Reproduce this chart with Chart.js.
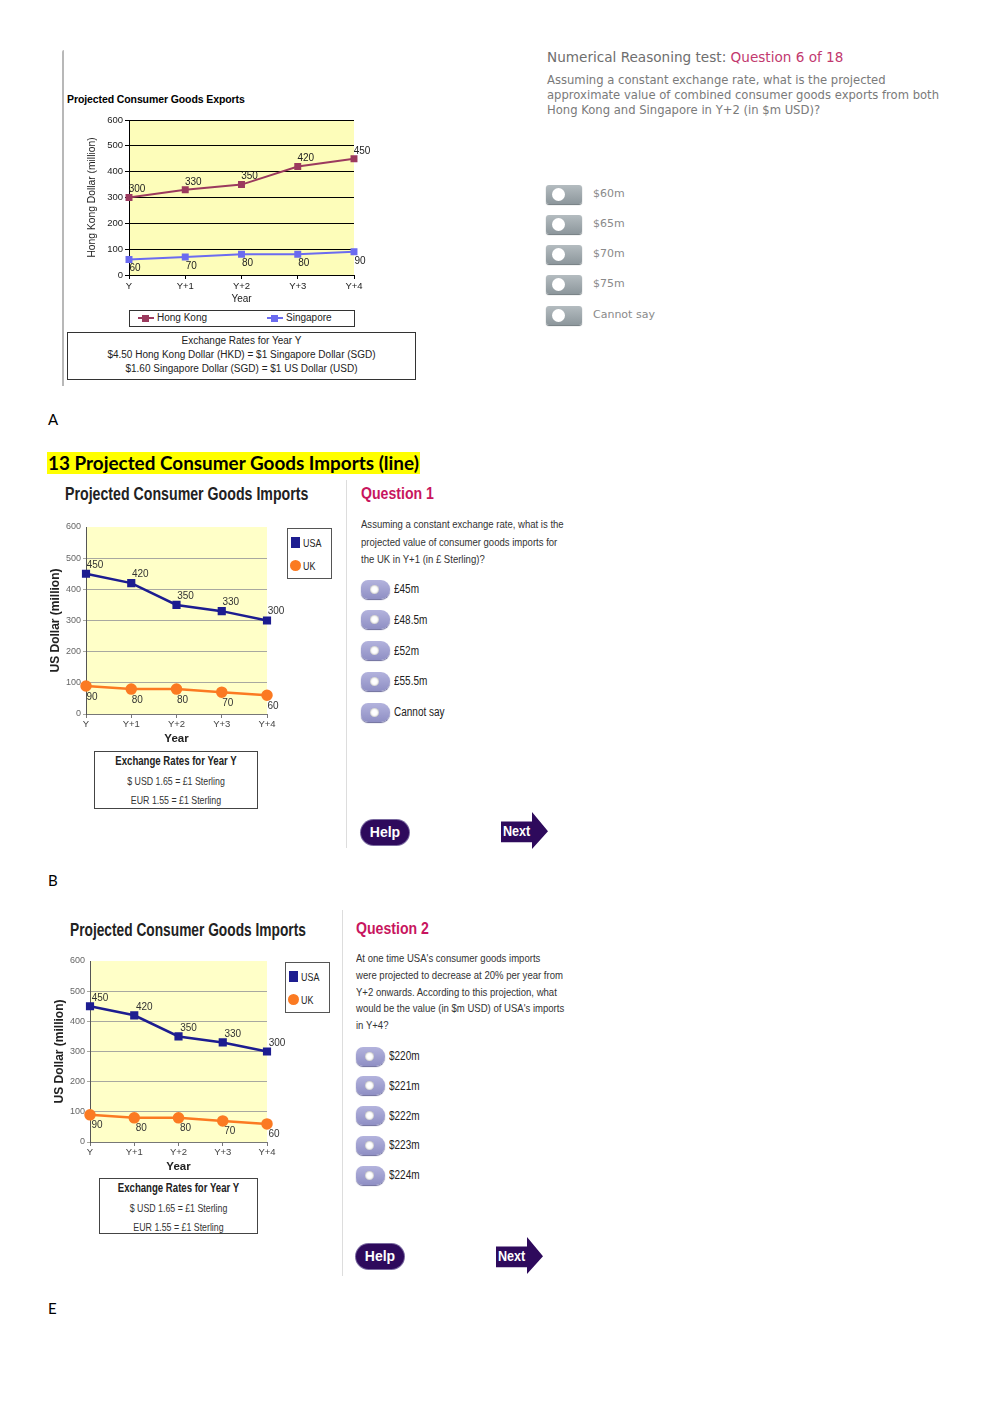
<!DOCTYPE html>
<html><head><meta charset="utf-8">
<script src="https://cdn.jsdelivr.net/npm/chart.js@4.4.0/dist/chart.umd.min.js"></script>
<style>
body{margin:0;background:#fff;width:1000px;height:1414px;position:relative;overflow:hidden;}
.a{position:absolute;white-space:nowrap;}
canvas{position:absolute;}
.box{position:absolute;border:1px solid #333;box-sizing:border-box;background:#fff;}
.gbtn{position:absolute;width:36px;height:19px;border-radius:3px;background:linear-gradient(#b4bcc0,#8d979c);box-shadow:0 1px 1px #6d777c;}
.gbtn::after{content:"";position:absolute;left:6px;top:3px;width:13px;height:13px;border-radius:50%;background:#fff;}
.pbtn{position:absolute;width:29px;height:19px;border-radius:7px 9px 9px 7px;background:linear-gradient(#b3b3dd,#8f8fc4);box-shadow:0 1px 1px #6a6a9a;}
.pbtn::after{content:"";position:absolute;left:9px;top:5px;width:9px;height:9px;border-radius:50%;background:#fff;box-shadow:inset 0 0 2px #888;}
.help{position:absolute;background:#2e0a5c;color:#fff;border-radius:13px;font-family:'Liberation Sans',sans-serif;font-weight:bold;font-size:14px;text-align:center;box-shadow:0 0 0 1px #7a6aa0;}
.next{position:absolute;background:#2e0a5c;clip-path:polygon(0 26%,66% 26%,66% 0,100% 52%,66% 100%,66% 82%,0 82%);}
.nextt{position:absolute;color:#fff;font-family:'Liberation Sans',sans-serif;font-weight:bold;font-size:14px;transform:scaleX(0.9);transform-origin:0 50%;}
</style></head>
<body>
<script>
// ---------- data ----------
const yearLabels = ['Y','Y+1','Y+2','Y+3','Y+4'];
const hongKongExports = [300,330,350,420,450];
const singaporeExports = [60,70,80,80,90];
const usaImports = [450,420,350,330,300];
const ukImports = [90,80,80,70,60];
const axisMin = 0, axisMax = 600, axisStep = 100;
const optionsA = ['$60m','$65m','$70m','$75m','Cannot say'];
const options1 = ['£45m','£48.5m','£52m','£55.5m','Cannot say'];
const options2 = ['$220m','$221m','$222m','$223m','$224m'];

// ---------- helpers ----------
function txt(x, cy, s, css, lh){
  lh = lh || 16;
  const d = document.createElement('div');
  d.className = 'a';
  d.style.cssText += `left:${x}px;top:${cy-lh/2}px;line-height:${lh}px;height:${lh}px;` + (css||'');
  d.textContent = s;
  document.body.appendChild(d);
  return d;
}
function el(cls, css, html){
  const d = document.createElement('div');
  d.className = cls; d.style.cssText = css;
  if (html !== undefined) d.innerHTML = html;
  document.body.appendChild(d); return d;
}
function canvasAt(id, x, y, w, h){
  const c = document.createElement('canvas');
  c.id = id; c.width = w; c.height = h;
  c.style.cssText = `left:${x}px;top:${y}px;width:${w}px;height:${h}px;`;
  document.body.appendChild(c); return c;
}
const sx = k => `transform:scaleX(${k});transform-origin:0 50%;`;
const sxc = k => `transform:scaleX(${k});transform-origin:50% 50%;`;

const plotBg = { id:'plotBg', beforeDraw(chart, args, opts){
  const {ctx, chartArea:a} = chart; ctx.save(); ctx.fillStyle = opts.color;
  ctx.fillRect(a.left, a.top, a.right-a.left, a.bottom-a.top); ctx.restore(); } };
const pointLabels = { id:'pointLabels', afterDatasetsDraw(chart, args, opts){
  const ctx = chart.ctx;
  chart.data.datasets.forEach((ds, i) => {
    const meta = chart.getDatasetMeta(i); const o = ds.labelOffset || [0,0];
    ctx.save(); ctx.font = opts.font; ctx.fillStyle = opts.color;
    ctx.textAlign = 'center'; ctx.textBaseline = 'middle';
    meta.data.forEach((pt, j) => ctx.fillText(String(ds.data[j]), pt.x + o[0], pt.y + o[1]));
    ctx.restore();
  });
} };

// ================= SECTION A =================
el('a', 'left:62px;top:50px;width:2px;height:336px;background:#b8b8b8;border-radius:2px 0 0 0;');
txt(67, 99, 'Projected Consumer Goods Exports', "font-family:'Liberation Sans',sans-serif;font-weight:bold;font-size:10.5px;color:#000;letter-spacing:-0.1px;");

const fA = "'Liberation Sans', sans-serif";
new Chart(canvasAt('chartA', 80, 110, 300, 200), {
  type:'line',
  data:{ labels:yearLabels, datasets:[
    { label:'Hong Kong', data:hongKongExports, borderColor:'#9b3a5e', backgroundColor:'#9b3a5e', borderWidth:2,
      pointStyle:'rect', pointRadius:3.5, tension:0, clip:false, labelOffset:[8,-8] },
    { label:'Singapore', data:singaporeExports, borderColor:'#6b6bf0', backgroundColor:'#6b6bf0', borderWidth:2,
      pointStyle:'rect', pointRadius:3.5, tension:0, clip:false, labelOffset:[6,9] }
  ]},
  options:{ responsive:false, animation:false, devicePixelRatio:1,
    layout:{ padding:{ left:0, top:10, right:26, bottom:0 } },
    plugins:{ legend:{display:false}, tooltip:{enabled:false}, plotBg:{color:'#fdfdba'},
      pointLabels:{ font:`10px ${fA}`, color:'#222' } },
    scales:{
      x:{ offset:false, grid:{ drawOnChartArea:false, tickLength:4, color:'#000' }, border:{color:'#000'},
        ticks:{ font:{family:fA,size:9.5}, color:'#222', padding:2 },
        title:{ display:true, text:'Year', font:{family:fA,size:10}, color:'#222', padding:{top:0,bottom:5} },
        afterFit:s=>{ s.height = 35; } },
      y:{ min:axisMin, max:axisMax, ticks:{ stepSize:axisStep, font:{family:fA,size:9.5}, color:'#222', padding:2 },
        grid:{ color:'#000', tickLength:4 }, border:{color:'#000'},
        title:{ display:true, text:'Hong Kong Dollar (million)', font:{family:fA,size:10.3}, color:'#222', padding:{top:6,bottom:0} },
        afterFit:s=>{ s.width = 49; } }
    } },
  plugins:[plotBg, pointLabels]
});
// legend A
el('box', 'left:129px;top:310px;width:226px;height:17px;');
el('a', 'left:138px;top:317px;width:16px;height:2px;background:#9b3a5e;');
el('a', 'left:142px;top:314.5px;width:7px;height:7px;background:#9b3a5e;');
txt(157, 318, 'Hong Kong', `font-family:${fA};font-size:10px;color:#222;`);
el('a', 'left:267px;top:317px;width:16px;height:2px;background:#6b6bf0;');
el('a', 'left:271px;top:314.5px;width:7px;height:7px;background:#6b6bf0;');
txt(286, 318, 'Singapore', `font-family:${fA};font-size:10px;color:#222;`);
// exchange A
el('box', 'left:67px;top:332px;width:349px;height:48px;');
el('a', `left:67px;top:334px;width:349px;text-align:center;font-family:${fA};font-size:10px;line-height:14px;color:#222;`,
  'Exchange Rates for Year Y<br>$4.50 Hong Kong Dollar (HKD) = $1 Singapore Dollar (SGD)<br>$1.60 Singapore Dollar (SGD) = $1 US Dollar (USD)');

// question A
const fV = "'DejaVu Sans', sans-serif";
el('a', `left:547px;top:49px;font-family:${fV};font-size:13.6px;color:#6e6e6e;line-height:17px;`,
  'Numerical Reasoning test: <span style="color:#c2386e">Question 6 of 18</span>');
el('a', `left:547px;top:73px;font-family:${fV};font-size:11.6px;color:#7a7a7a;line-height:15px;`,
  'Assuming a constant exchange rate, what is the projected<br>approximate value of combined consumer goods exports from both<br>Hong Kong and Singapore in Y+2 (in $m USD)?');
const ayA = [194,224,254,284,315];
optionsA.forEach((o, i) => {
  el('gbtn', `left:546px;top:${ayA[i]-9.5}px;`);
  txt(593, ayA[i], o, `font-family:${fV};font-size:11px;color:#8a8a8a;`);
});

txt(48, 419, 'A', "font-family:Lato,sans-serif;font-size:15px;color:#000;", 18);

// ================= SECTION B =================
el('a', "left:47px;top:452px;height:22px;line-height:22px;background:#ffff00;font-family:Lato,sans-serif;font-weight:bold;font-size:18.9px;color:#000;padding:0 1px;",
  '13 Projected Consumer Goods Imports (line)');

const fN = "'Liberation Sans',sans-serif";
function importsChart(id, x, y, w, h, usaOff, ukOff){
  return new Chart(canvasAt(id, x, y, w, h), {
    type:'line',
    data:{ labels:yearLabels, datasets:[
      { label:'USA', data:usaImports, borderColor:'#1d1d90', backgroundColor:'#1d1d90', borderWidth:2.5,
        pointStyle:'rect', pointRadius:4, tension:0, clip:false, labelOffset:usaOff },
      { label:'UK', data:ukImports, borderColor:'#fb7a22', backgroundColor:'#fb7a22', borderWidth:2.5,
        pointStyle:'circle', pointRadius:4.5, tension:0, clip:false, labelOffset:ukOff }
    ]},
    options:{ responsive:false, animation:false, devicePixelRatio:1,
      layout:{ padding:{ left:0, top:10, right:23, bottom:0 } },
      plugins:{ legend:{display:false}, tooltip:{enabled:false}, plotBg:{color:'#ffffc8'},
        pointLabels:{ font:`10px ${fN}`, color:'#333' } },
      scales:{
        x:{ offset:false, grid:{ drawOnChartArea:false, tickLength:4, color:'#777' }, border:{color:'#777'},
          ticks:{ font:{family:fN,size:9.5}, color:'#444', padding:1 },
          title:{ display:true, text:'Year', font:{family:fN,size:11.5,weight:'bold'}, color:'#222', padding:{top:0,bottom:3} },
          afterFit:s=>{ s.height = 35; } },
        y:{ min:axisMin, max:axisMax, ticks:{ stepSize:axisStep, font:{family:fN,size:9}, color:'#666', padding:2 },
          grid:{ color:c => c.tick && c.tick.value === axisMax ? 'rgba(0,0,0,0)' : '#a8a8a0', tickLength:3 },
          border:{color:'#555'},
          title:{ display:true, text:'US Dollar (million)', font:{family:fN,size:12,weight:'bold'}, color:'#222', padding:{top:8,bottom:0} },
          afterFit:s=>{ s.width = 46; } }
      } },
    plugins:[plotBg, pointLabels]
  });
}
function legendBox(x, y){
  el('box', `left:${x}px;top:${y}px;width:45px;height:51px;border-color:#555;`);
  el('a', `left:${x+4}px;top:${y+9}px;width:9px;height:11px;background:#1d1d90;`);
  txt(x+16, y+15, 'USA', `font-family:${fN};font-size:10.5px;color:#222;` + sx(0.85));
  el('a', `left:${x+3}px;top:${y+32}px;width:11px;height:11px;border-radius:50%;background:#fb7a22;`);
  txt(x+16, y+38, 'UK', `font-family:${fN};font-size:10.5px;color:#222;` + sx(0.85));
}
function exchangeBox(x, y, w, h){
  el('box', `left:${x}px;top:${y}px;width:${w}px;height:${h}px;border-color:#444;`);
  txt(x, y+10, 'Exchange Rates for Year Y', `width:${w}px;text-align:center;font-family:${fN};font-size:12px;font-weight:bold;color:#222;` + sxc(0.8));
  txt(x, y+30, '$ USD 1.65 = £1 Sterling', `width:${w}px;text-align:center;font-family:${fN};font-size:11px;color:#333;` + sxc(0.8));
  txt(x, y+49, 'EUR 1.55 = £1 Sterling', `width:${w}px;text-align:center;font-family:${fN};font-size:11px;color:#333;` + sxc(0.8));
}
function questionPanel(x, titleY, title, lines, lineY0, lineGap, opts, optY0, optGap, helpY, nextY){
  txt(x, titleY, title, `font-family:${fN};font-weight:bold;font-size:17px;color:#c8155e;` + sx(0.83), 20);
  lines.forEach((l, i) => txt(x, lineY0 + i*lineGap, l, `font-family:${fN};font-size:11.5px;color:#333;` + sx(0.83)));
  opts.forEach((o, i) => {
    const cy = optY0 + i*optGap;
    el('pbtn', `left:${x}px;top:${cy-9.5}px;`);
    txt(x+33, cy, o, `font-family:${fN};font-size:12.5px;color:#222;` + sx(0.8));
  });
  el('help', `left:${x}px;top:${helpY}px;width:48px;height:25px;line-height:25px;`, 'Help');
  el('next', `left:${x+140}px;top:${nextY}px;width:47px;height:37px;`);
  txt(x+142, nextY+19, 'Next', '', 16).className = 'nextt a';
}

txt(65, 494, 'Projected Consumer Goods Imports', `font-family:${fN};font-weight:bold;font-size:17.5px;color:#222;` + sx(0.81), 22);
importsChart('chartB', 40, 517, 250, 232, [9,-9], [6,11]);
legendBox(287, 528);
exchangeBox(94, 751, 164, 58);
el('a', 'left:346px;top:480px;width:1px;height:368px;background:#ddd;');
questionPanel(361, 494, 'Question 1',
  ['Assuming a constant exchange rate, what is the', 'projected value of consumer goods imports for', 'the UK in Y+1 (in £ Sterling)?'],
  524, 17.5, options1, 589, 30.75, 820, 812);
txt(48, 880, 'B', "font-family:Lato,sans-serif;font-size:15px;color:#000;", 18);

// ================= SECTION E =================
txt(70, 930, 'Projected Consumer Goods Imports', `font-family:${fN};font-weight:bold;font-size:17.5px;color:#222;` + sx(0.785), 22);
importsChart('chartE', 44, 951, 246, 226, [10,-8], [7,10]);
legendBox(285, 962);
exchangeBox(99, 1178, 159, 56);
el('a', 'left:342px;top:910px;width:1px;height:366px;background:#ddd;');
questionPanel(356, 929, 'Question 2',
  ["At one time USA's consumer goods imports", 'were projected to decrease at 20% per year from', 'Y+2 onwards. According to this projection, what', "would be the value (in $m USD) of USA's imports", ' in Y+4?'],
  958, 16.8, options2, 1056, 29.75, 1244, 1237);
txt(48, 1308, 'E', "font-family:Lato,sans-serif;font-size:15px;color:#000;", 18);
</script>
</body></html>
